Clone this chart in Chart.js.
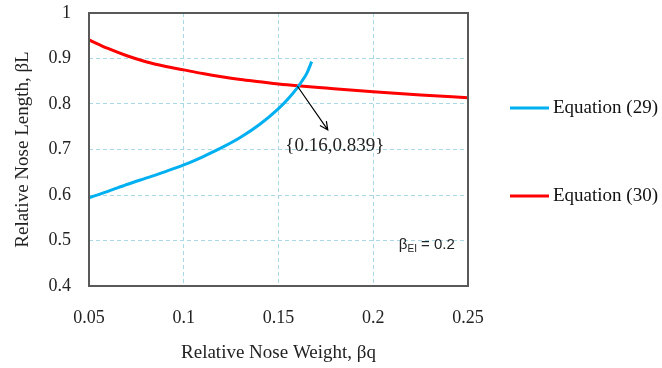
<!DOCTYPE html>
<html>
<head>
<meta charset="utf-8">
<script src="https://cdn.jsdelivr.net/npm/chart.js@4/dist/chart.umd.min.js"></script>
<style>
    body { margin: 0; background: #fff; }
    #wrap { width: 662px; height: 368px; }
</style>
</head>
<body>
<div id="wrap"><canvas id="noseChart"></canvas></div>
<script>
// values
const xTicks = [0.05, 0.1, 0.15, 0.2, 0.25];
const yTicks = [0.4, 0.5, 0.6, 0.7, 0.8, 0.9, 1];

const eq29X = [0.05, 0.06, 0.07, 0.08, 0.09, 0.10, 0.11, 0.12, 0.13, 0.14, 0.15, 0.155, 0.16, 0.1625, 0.165, 0.1675];
const eq29Y = [0.594, 0.608, 0.623, 0.637, 0.651, 0.666, 0.684, 0.704, 0.727, 0.755, 0.790, 0.811, 0.836, 0.851, 0.868, 0.893];

const eq30X = [0.05, 0.06, 0.07, 0.08, 0.09, 0.10, 0.11, 0.12, 0.13, 0.14, 0.15, 0.16, 0.175, 0.2, 0.225, 0.25];
const eq30Y = [0.941, 0.922, 0.906, 0.893, 0.883, 0.875, 0.867, 0.860, 0.854, 0.849, 0.844, 0.840, 0.835, 0.827, 0.820, 0.814];

const crossPoint = [0.16, 0.839];
const arrowEnd = [0.176, 0.743];

function toPoints(xs, ys) {
    return xs.map((x, i) => ({ x: x, y: ys[i] }));
}

const serif = '"Liberation Serif", "Times New Roman", serif';

const extras = {
    id: 'extras',
    afterDraw(chart) {
        const ctx = chart.ctx;
        const a = chart.chartArea;
        const xs = chart.scales.x, ys = chart.scales.y;
        ctx.save();
        // frame
        ctx.strokeStyle = '#595959';
        ctx.lineWidth = 2;
        ctx.strokeRect(a.left, a.top, a.right - a.left, a.bottom - a.top);

        // arrow to the crossing point
        const x0 = xs.getPixelForValue(crossPoint[0]), y0 = ys.getPixelForValue(crossPoint[1]);
        const x1 = xs.getPixelForValue(arrowEnd[0]), y1 = ys.getPixelForValue(arrowEnd[1]);
        ctx.strokeStyle = '#000';
        ctx.lineWidth = 1.2;
        ctx.beginPath();
        ctx.moveTo(x0, y0);
        ctx.lineTo(x1, y1);
        const ang = Math.atan2(y1 - y0, x1 - x0);
        ctx.moveTo(x1 - 9 * Math.cos(ang - 0.45), y1 - 9 * Math.sin(ang - 0.45));
        ctx.lineTo(x1, y1);
        ctx.lineTo(x1 - 9 * Math.cos(ang + 0.45), y1 - 9 * Math.sin(ang + 0.45));
        ctx.stroke();

        ctx.fillStyle = '#222';
        ctx.font = '19px ' + serif;
        ctx.textAlign = 'center';
        ctx.textBaseline = 'middle';
        ctx.fillText('{' + crossPoint[0] + ',' + crossPoint[1] + '}', x1 + 7, y1 + 16);

        // beta_EI note
        ctx.font = '15px "Liberation Sans", Arial, sans-serif';
        ctx.textAlign = 'left';
        ctx.textBaseline = 'alphabetic';
        const bx = xs.getPixelForValue(0.2135), by = ys.getPixelForValue(0.481);
        ctx.fillText('β', bx, by);
        let w = ctx.measureText('β').width;
        ctx.font = '10px "Liberation Sans", Arial, sans-serif';
        ctx.fillText('EI', bx + w, by + 3);
        w += ctx.measureText('EI').width;
        ctx.font = '15px "Liberation Sans", Arial, sans-serif';
        ctx.fillText(' = 0.2', bx + w, by);

        // legend
        ctx.font = '19px ' + serif;
        ctx.textBaseline = 'middle';
        chart.data.datasets.forEach((ds, i) => {
            const ly = 108 + i * 88;
            ctx.strokeStyle = ds.borderColor;
            ctx.lineWidth = 3;
            ctx.beginPath();
            ctx.moveTo(510, ly);
            ctx.lineTo(549, ly);
            ctx.stroke();
            ctx.fillStyle = '#111';
            ctx.fillText(ds.label, 553, ly);
        });
        ctx.restore();
    }
};

const ctx = document.getElementById('noseChart').getContext('2d');
const noseChart = new Chart(ctx, {
    type: 'scatter',
    data: {
        datasets: [{
            label: 'Equation (29)',
            data: toPoints(eq29X, eq29Y),
            showLine: true,
            borderColor: '#00b0f0',
            borderWidth: 3,
            pointRadius: 0,
            cubicInterpolationMode: 'monotone'
        }, {
            label: 'Equation (30)',
            data: toPoints(eq30X, eq30Y),
            showLine: true,
            borderColor: '#ff0000',
            borderWidth: 3,
            pointRadius: 0,
            cubicInterpolationMode: 'monotone'
        }]
    },
    options: {
        responsive: true,
        maintainAspectRatio: false,
        animation: false,
        layout: { padding: { top: 13, right: 194, bottom: 4, left: 0 } },
        plugins: {
            legend: { display: false },
            tooltip: { enabled: false }
        },
        scales: {
            x: {
                type: 'linear',
                min: 0.05,
                max: 0.25,
                afterBuildTicks: s => { s.ticks = xTicks.map(v => ({ value: v })); },
                afterFit: s => { s.height = 78; },
                grid: { color: '#a9d8e6', drawTicks: false },
                border: { display: false, dash: [4, 3] },
                ticks: {
                    padding: 21,
                    color: '#222',
                    font: { family: serif, size: 18 },
                    callback: v => String(v)
                },
                title: {
                    display: true,
                    text: 'Relative Nose Weight, βq',
                    color: '#222',
                    font: { family: serif, size: 19 },
                    padding: { top: 11, bottom: 0 }
                }
            },
            y: {
                min: 0.4,
                max: 1,
                afterBuildTicks: s => { s.ticks = yTicks.map(v => ({ value: v })); },
                afterFit: s => { s.width = 89; s.paddingTop = 0; s.paddingBottom = 0; },
                grid: { color: '#a9d8e6', drawTicks: false },
                border: { display: false, dash: [4, 3] },
                ticks: {
                    padding: 18,
                    color: '#222',
                    font: { family: serif, size: 18 },
                    callback: v => String(v)
                },
                title: {
                    display: true,
                    text: 'Relative Nose Length, βL',
                    color: '#222',
                    font: { family: serif, size: 19 },
                    padding: { top: 12, bottom: 0 }
                }
            }
        }
    },
    plugins: [extras]
});
</script>
</body>
</html>
